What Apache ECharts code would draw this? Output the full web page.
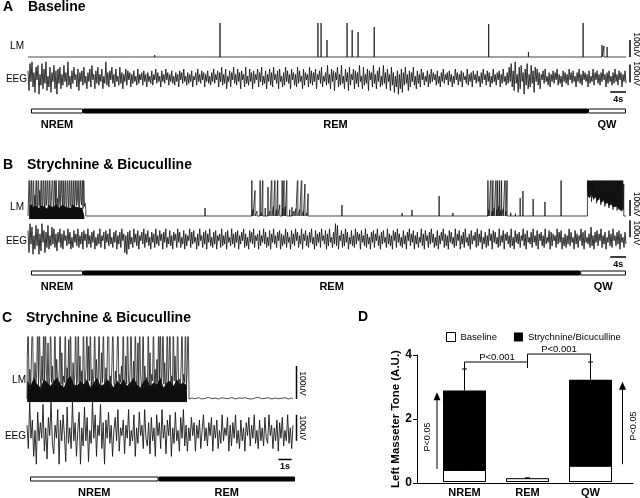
<!DOCTYPE html>
<html><head><meta charset="utf-8">
<script src="https://cdn.jsdelivr.net/npm/echarts@6/dist/echarts.min.js"></script>
<style>html,body{margin:0;padding:0;background:#fff}#c{width:640px;height:498px}</style>
</head><body><div id="c"></div><script>
// ---------------- data ----------------
const stateNamesAB = ['NREM','REM','QW'];
const stateNamesC = ['NREM','REM'];
const statesA = [13.3, 129.0, 9.7];     // durations, s
const statesB = [13.3, 127.0, 11.7];
const statesC = [9.7, 10.3];

// Panel A LM spikes (time s, amplitude uV)
const lmA_t = [4.1,9.9,16.5,25.6,32.2,39.7,45.4,48.8,54.5,62.0,69.4,73.7,74.5,76.0,81.1,82.4,83.9,88.0,92.5,99.1,105.7,112.3,117.1,122.3,127.2,132.2,137.1,141.1,145.9,146.4,147.2,149.5];
const lmA_v = [6,4,8,5,12,4,6,200,5,7,10,200,200,100,200,159,147,176,6,10,5,8,194,4,30,6,9,200,70,65,59,5];
// Panel A EEG (units of 10 uV)
const eegA = [4,-7,8,-2,9,-5,3,-8,6,-1,7,-9,2,-4,8,-6,5,-3,9,-7,1,-5,6,-8,3,-2,7,-6,4,-9,
5,-3,6,-6,2,-4,7,-2,3,-5,9,-4,1,-6,4,-3,6,-1,2,-5,5,-7,3,-2,4,-4,6,-3,1,-6,
3,-2,5,-5,7,-1,2,-6,4,-3,6,-4,2,-2,5,-6,1,-3,9,-4,3,-5,4,-1,6,-3,2,-5,5,-2,
1,-4,6,-3,3,-6,2,-2,5,-4,4,-1,3,-5,2,-3,4,-2,1,-4,5,-3,2,-1,3,-4,4,-2,2,-5,
3,-2,1,-3,4,-4,2,-1,5,-3,3,-2,1,-5,4,-2,2,-3,5,-1,3,-4,2,-2,4,-3,1,-4,3,-2,
2,-5,4,-1,3,-3,5,-2,1,-4,3,-3,2,-2,4,-5,1,-1,3,-4,5,-2,2,-3,4,-1,3,-5,2,-2,
4,-3,1,-4,3,-2,5,-3,2,-1,4,-5,3,-2,6,-4,2,-3,5,-6,1,-2,4,-5,3,-1,6,-3,2,-4,
5,-2,3,-6,4,-1,2,-5,6,-3,1,-4,5,-2,3,-6,4,-3,2,-1,5,-5,3,-2,6,-4,1,-3,4,-6,
2,-2,5,-4,3,-5,6,-1,2,-3,4,-6,5,-2,1,-5,3,-4,6,-2,4,-3,2,-6,5,-1,3,-4,2,-5,
6,-3,4,-2,1,-6,5,-4,3,-1,2,-5,6,-3,4,-4,3,-2,5,-6,2,-1,4,-3,6,-5,1,-2,3,-4,
7,-3,2,-6,5,-2,4,-7,3,-1,6,-5,2,-4,7,-3,1,-6,5,-2,3,-7,6,-4,2,-1,5,-6,4,-3,
3,-5,7,-2,1,-6,6,-4,2,-3,5,-7,4,-1,3,-5,7,-3,2,-6,4,-2,6,-5,1,-4,7,-3,3,-6,
5,-2,2,-7,6,-4,3,-8,1,-5,4,-9,2,-6,5,-8,3,-4,6,-3,2,-7,4,-5,3,-2,6,-4,1,-6,
4,-3,2,-5,5,-1,3,-4,1,-2,4,-5,2,-3,5,-2,3,-1,2,-4,4,-3,1,-5,3,-2,5,-3,2,-1,
3,-4,4,-2,2,-5,1,-3,5,-1,3,-4,2,-2,4,-5,3,-1,1,-3,5,-4,2,-2,3,-5,4,-1,2,-3,
4,-2,1,-5,3,-3,5,-1,2,-4,4,-2,3,-5,1,-3,5,-2,2,-4,3,-1,4,-5,2,-3,5,-2,1,-4,
3,-3,6,-2,8,-5,4,-7,9,-3,2,-8,6,-6,7,-2,3,-9,5,-4,8,-6,2,-5,7,-3,4,-8,6,-2,
5,-4,3,-6,2,-1,4,-3,5,-2,1,-4,3,-5,2,-2,4,-3,3,-1,5,-4,2,-3,1,-5,4,-2,3,-3,
2,-4,5,-1,3,-3,4,-2,1,-5,3,-2,5,-3,2,-4,4,-1,3,-2,2,-5,4,-3,1,-2,5,-4,3,-1,
4,-3,2,-4,3,-2,5,-1,2,-5,3,-3,4,-2,1,-4,3,-3,5,-2,2,-4,4,-1,3,-5,2,-2,4,-3];

// Panel B LM isolated spikes + REM bursts
const lmB_t = [18.2,24.8,33.0,39.7,45.0,49.6,
56.9,57.2,57.7,58.2,59.0,59.4,59.7,60.3,61.0,61.5,62.0,62.4,62.8,63.2,63.5,64.0,64.6,64.8,65.1,65.4,65.8,66.5,67.1,67.6,68.1,68.6,69.1,69.6,70.0,70.4,70.9,71.2,
74.3,79.8,82.6,89.2,95.1,97.6,100.8,104.5,108.0,111.5,
116.9,117.2,117.7,118.0,118.2,118.5,119.0,119.2,119.4,119.7,119.9,120.2,120.4,120.8,121.3,121.5,121.8,122.7,123.9,
125.1,125.8,128.4,131.4,135.5,138.8];
const lmB_v = [6,8,5,10,50,7,
300,40,160,30,300,20,300,50,180,30,300,60,300,40,300,70,300,50,300,60,250,40,55,30,45,300,40,300,30,200,20,140,
6,69,8,5,19,38,7,125,19,6,
300,40,300,30,300,50,300,40,300,60,300,35,300,45,300,30,300,20,15,
113,156,106,88,300,8];
// NREM burst spikes (start 0.3 s, step 0.18 s) and dense-activity envelope (start 0.3 s, step 0.5 s)
const lmB_nrem = [250,60,110,300,40,80,300,55,130,70,300,45,90,300,60,160,40,300,75,50,
300,95,45,300,65,120,300,50,80,300,40,70,180,300,55,90,300,45,300,65,
110,40,300,80,55,300,140,60,300,45,95,300,70,50,300,120,40,300,85,60,
300,50,75,300,45,130,300,65,90,300,55,40,300,100,70,300,45,300,60,80,40];
const lmB_nremEnv = [60,75,55,70,80,50,65,75,60,45,70,80,55,65,75,50,60,70,80,55,65,50,75,60,70,55,65,50,45];
// QW burst spikes (start 142.2 s, step 0.13 s) and lower edge of the saturated block (step 0.5 s)
const lmB_qw = [300,160,300,210,300,120,300,180,90,300,200,300,140,300,110,300,170,300,80,300,
150,300,100,300,190,300,70,300,130,300,90,300,160,300,60,300,110,300,80,300,
140,300,50,300,100,300,70,300,120,300,40,300,90,300,60,300,110,300,35,300,
70,300,50,300,90,300,30,250,60,300,40,200];
const lmB_qwFloor = [130,110,140,100,120,90,115,80,100,70,85,60,75,55,45,60,40,50,35];
const eegB = [5,-8,9,-3,7,-9,2,-6,8,-4,6,-9,3,-7,9,-2,5,-8,4,-5,8,-6,2,-4,7,-3,6,-5,3,-7,
4,-2,6,-5,3,-6,5,-1,2,-4,6,-3,4,-6,1,-5,5,-2,3,-4,6,-5,2,-3,4,-6,5,-1,3,-5,
6,-3,2,-5,4,-2,5,-6,1,-4,3,-3,6,-5,2,-1,4,-6,5,-2,3,-4,6,-3,1,-5,4,-2,5,-6,
2,-3,4,-5,6,-1,3,-8,2,-9,4,-6,5,-3,1,-5,6,-2,3,-4,5,-6,2,-1,4,-3,6,-5,3,-2,
5,-4,1,-6,4,-2,3,-5,6,-3,2,-4,5,-1,3,-6,4,-2,6,-5,1,-3,5,-4,2,-6,4,-1,3,-5,
6,-2,4,-5,1,-3,5,-6,3,-4,2,-1,6,-5,4,-3,5,-2,1,-6,3,-4,6,-1,2,-5,4,-3,5,-6,
3,-2,6,-4,1,-5,4,-3,5,-6,2,-1,3,-5,6,-4,2,-3,4,-6,5,-2,1,-4,6,-3,3,-5,4,-2,
5,-6,2,-3,4,-1,6,-5,3,-4,1,-6,5,-2,4,-3,6,-5,2,-1,3,-6,5,-4,2,-2,6,-3,4,-5,
1,-4,5,-6,3,-2,6,-3,2,-5,4,-1,5,-6,3,-4,2,-3,6,-5,4,-2,1,-6,5,-3,3,-4,6,-1,
4,-5,2,-3,6,-6,3,-1,5,-4,2,-5,4,-2,6,-3,1,-6,5,-4,3,-2,4,-5,6,-1,2,-3,5,-6,
3,-4,6,-2,1,-5,4,-3,9,-4,8,-6,2,-1,5,-5,3,-4,6,-2,4,-6,1,-3,5,-4,2,-5,6,-3,
4,-1,3,-6,5,-2,2,-4,6,-5,3,-3,1,-6,4,-2,5,-5,3,-1,6,-4,2,-6,4,-3,5,-2,1,-5,
6,-3,3,-4,2,-6,5,-1,4,-5,6,-2,3,-4,1,-5,5,-3,2,-6,4,-1,6,-4,3,-2,5,-6,2,-3,
4,-5,1,-2,6,-4,3,-6,5,-1,2,-5,4,-3,6,-2,3,-5,1,-4,5,-6,2,-3,4,-1,6,-5,3,-4,
2,-6,5,-2,4,-3,1,-5,6,-4,3,-1,5,-6,2,-3,4,-5,6,-2,1,-4,3,-6,5,-3,2,-1,4,-5,
6,-4,3,-2,5,-6,1,-3,4,-5,2,-4,6,-1,3,-6,5,-2,4,-3,1,-5,6,-4,2,-2,5,-6,3,-1,
4,-3,2,-5,6,-4,1,-6,5,-2,3,-3,4,-5,2,-1,6,-4,3,-6,5,-2,1,-3,4,-5,6,-2,2,-4,
5,-6,3,-1,4,-4,2,-5,6,-3,1,-2,5,-6,4,-4,3,-1,2,-5,6,-3,4,-2,5,-6,1,-4,3,-5,
2,-3,6,-4,4,-2,1,-6,5,-3,3,-5,2,-1,6,-4,4,-6,5,-2,1,-3,3,-5,7,-4,2,-6,4,-2,
5,-4,3,-1,6,-5,2,-3,4,-6,1,-2,5,-4,3,-5,6,-1,2,-4,4,-3,5,-6,3,-2,1,-5,4,-3];

// Panel C LM burst spikes (step 0.065 s), dense-activity envelope (step 0.25 s), REM baseline (start 12.4 s, step 0.25 s)
const lmC_burst = [120,250,45,90,30,150,250,60,35,110,50,80,250,40,250,70,25,130,55,250,
35,250,90,45,170,30,65,250,50,100,25,75,250,40,120,55,30,85,250,45,
140,35,70,50,250,30,95,60,180,40,250,55,25,110,45,75,250,35,60,250,
50,130,30,85,45,250,65,35,100,250,40,160,55,250,30,90,45,70,250,35,
120,55,40,250,80,30,140,50,250,65,35,95,45,190,250,40,70,30,110,250,
55,35,85,45,150,250,30,75,50,100,40,250,60,35,130,45,250,70,30,90,
250,50,40,115,35,250,60,45,170,30,250,80,40,55,250,35,100,50,65,30,
250,45,140,35,75,55,250,40,90,30,120,50,250,60,250,35,80,250,45,110,
30,65,250,50,95,250,35,70,40,250,55,130,30,85,250,45,60,35,100,250,
40,75,50,250,30,90,250,45];
const lmC_env = [55,40,65,45,35,60,50,40,55,65,45,35,60,70,45,40,55,45,60,35,50,65,40,45,60,
50,35,55,45,60,40,50,65,45,35,55,60,40,50,45,65,35,50,55,40,60,45,50,40];
const lmC_rem = [3,1,4,0,2,5,1,3,0,4,2,1,5,0,3,2,4,1,0,3,5,1,2,4,0,3,1,2,4,0,3];
const eegC = [3,-6,12,-2,5,-9,1,-12,8,-3,4,-2,11,-7,2,-10,6,-1,12,-4,
-8,3,-2,9,-12,5,-3,7,-1,-11,10,-4,2,-6,12,-3,4,-9,1,8,
-12,2,-5,10,-3,6,-11,1,-4,12,-2,7,-9,3,-1,11,-6,4,-12,5,
-2,8,-4,3,-9,1,6,-3,9,-7,2,-1,5,-8,3,-2,9,-5,1,-3,
7,-9,2,-4,8,-1,3,-6,9,-2,-5,4,-8,6,-3,2,-9,7,-1,4,
-6,9,-2,3,-8,5,-1,7,-9,2,-4,8,-3,1,-7,6,-2,9,-5,3,
-7,2,-3,6,-1,4,-7,3,-2,5,-6,1,7,-3,2,-5,4,-1,6,-7,
3,-2,5,-6,1,-4,7,-3,2,-1,6,-7,3,-5,4,-2,7,-4,1,-6,
5,-3,2,-7,4,-1,6,-5,3,-2,7,-4,1,-6,5,-3,2,-5,6,-2,
-4,7,-1,3,-6,2,-3,5,-7,4,-2,6,-5,1,-3,7,-4,2,-6,3];

// Panel D
const cats = ['NREM','REM','QW'];
const baseline = [0.38, 0.12, 0.51];
const baselineErr = [0.39, 0.13, 0.52];
const strych = [2.88, 0.10, 3.22];
const strychErr = [3.56, 0.11, 3.78];
const sigLevel1 = 3.78, sigLevel2 = 4.03;

// ---------------- build ----------------
const FONT = '"Liberation Sans", Arial, Helvetica, sans-serif';
const chart = echarts.init(document.getElementById('c'), null, {renderer:'canvas'});

function spikePts(ts, vs){ const p=[]; ts.forEach((t,i)=>{p.push([t,0],[t,vs[i]],[t,0]);}); return p; }
function uniPts(t0, dt, vs){ return vs.map((v,i)=>[+(t0+i*dt).toFixed(4), v]); }
function burstPts(t0, dt, vs){ const u=uniPts(t0,dt,vs); const tEnd=t0+(vs.length-1)*dt; return [[t0-0.01,0]].concat(u,[[tEnd+0.01,0]]); }
function lmLine(end, parts){ let p=[]; parts.forEach(q=>{p=p.concat(q);}); p.sort((a,b)=>a[0]-b[0]); return [[0,0]].concat(p,[[end,0]]); }
function eegPts(vals, end){ return vals.map((v,i)=>[i*end/(vals.length-1), v*10]); }

const lmAData = lmLine(152, [spikePts(lmA_t, lmA_v)]);
const lmBData = lmLine(152, [spikePts(lmB_t, lmB_v), burstPts(0.3,0.18,lmB_nrem), burstPts(142.2,0.13,lmB_qw)]);
const lmCData = lmLine(20, [burstPts(0.02,0.065,lmC_burst), uniPts(12.4,0.25,lmC_rem)]);

function tg(left,right,baseY,pxPer100,minV,maxV){ const s=pxPer100/100; return {left:left, width:right-left, top:baseY-maxV*s, height:(maxV-minV)*s, minV:minV, maxV:maxV}; }
const tgs = [
  tg(28,626,57,17,-20,205),
  tg(28,626,78,18,-110,110),
  tg(28,626,216,16,-20,219),
  tg(28,626,239,17,-110,110),
  tg(27,293,399,33,-10,188),
  tg(27,293,433,26,-130,130)
];
const tEnds = [152,152,152,152,20,20];
const lineW = [0.8,0.85,0.8,0.85,0.8,0.9];
const lineC = ['#151515','#141414','#151515','#141414','#1a1a1a','#1a1a1a'];
const grids=[], xAxes=[], yAxes=[], series=[];
tgs.forEach((g,i)=>{
  grids.push({left:g.left, top:g.top, width:g.width, height:g.height});
  xAxes.push({gridIndex:i, type:'value', min:0, max:tEnds[i], show:false});
  yAxes.push({gridIndex:i, type:'value', min:g.minV, max:g.maxV, show:false});
});
const traceData = [lmAData, eegPts(eegA,152), lmBData, eegPts(eegB,152), lmCData, eegPts(eegC,20)];
traceData.forEach((d,i)=>{
  series.push({type:'line', xAxisIndex:i, yAxisIndex:i, data:d, symbol:'none', silent:true, clip:true, z:3,
    lineStyle:{color:lineC[i], width:lineW[i]}});
});
// dense EMG activity filled areas
function areaSeries(gi, data, origin){
  return {type:'line', xAxisIndex:gi, yAxisIndex:gi, data:data, symbol:'none', silent:true, clip:true, z:2,
    lineStyle:{width:0}, areaStyle:{color:'#0d0d0d', opacity:1, origin:origin}};
}
series.push(areaSeries(2, burstPts(0.3,0.5,lmB_nremEnv), 'start'));
series.push(areaSeries(2, uniPts(142.2,0.5,lmB_qwFloor), 'end'));
series.push(areaSeries(4, burstPts(0.02,0.25,lmC_env), 'start'));
// hypnograms
const hyp = [
  {g:{left:31, top:108, width:595, height:6}, end:152, d:statesA, n:stateNamesAB},
  {g:{left:31, top:270, width:595, height:6}, end:152, d:statesB, n:stateNamesAB},
  {g:{left:30, top:476, width:265, height:6}, end:20, d:statesC, n:stateNamesC}
];
hyp.forEach((h,k)=>{
  const gi = grids.length;
  grids.push(h.g);
  xAxes.push({gridIndex:gi, type:'value', min:0, max:h.end, show:false});
  yAxes.push({gridIndex:gi, type:'category', data:['s'], show:false});
  h.d.forEach((dur,j)=>{
    series.push({type:'bar', xAxisIndex:gi, yAxisIndex:gi, stack:'h'+k, barWidth:5, data:[dur], silent:true,
      itemStyle:{color: h.n[j]==='REM' ? '#000' : '#fff', borderColor:'#000', borderWidth:1},
      label:{show:true, position:'bottom', distance:6, formatter:h.n[j], fontFamily:FONT, fontWeight:'bold', fontSize:11, color:'#000'}});
  });
});
// panel D
const gA = grids.length; // axes grid
grids.push({left:417, top:355, width:216, height:128});
xAxes.push({gridIndex:gA, type:'value', min:0, max:1, axisLine:{show:true, onZero:false, lineStyle:{color:'#000', width:1}}, axisTick:{show:false}, axisLabel:{show:false}, splitLine:{show:false}});
yAxes.push({gridIndex:gA, type:'value', min:0, max:4, interval:2,
  axisLine:{show:true, lineStyle:{color:'#000', width:1}}, axisTick:{show:true, length:4, lineStyle:{color:'#000'}},
  axisLabel:{color:'#000', fontFamily:FONT, fontWeight:'bold', fontSize:12, margin:5}, splitLine:{show:false},
  name:'Left Masseter Tone (A.U.)', nameLocation:'middle', nameGap:9, nameRotate:90,
  nameTextStyle:{color:'#000', fontFamily:FONT, fontWeight:'bold', fontSize:11.5}});
const gB = grids.length; // bars grid
grids.push({left:433, top:355, width:189, height:128});
xAxes.push({gridIndex:gB, type:'category', data:cats, axisLine:{show:false}, axisTick:{show:false},
  axisLabel:{color:'#000', fontFamily:FONT, fontWeight:'bold', fontSize:11, margin:5}});
yAxes.push({gridIndex:gB, type:'value', min:0, max:4, show:false});
series.push({type:'bar', name:'Strychnine/Bicuculline', xAxisIndex:gB, yAxisIndex:gB, data:strych, barWidth:43, barGap:'-100%',
  itemStyle:{color:'#000'}, z:2});
series.push({type:'bar', name:'Baseline', xAxisIndex:gB, yAxisIndex:gB, data:baseline, barWidth:43, barGap:'-100%',
  itemStyle:{color:'#fff', borderColor:'#000', borderWidth:1}, z:3});
function errSeries(vals, errs, z){
  return {type:'custom', xAxisIndex:gB, yAxisIndex:gB, z:z, silent:true,
    data: vals.map((v,i)=>[i, v, errs[i]]),
    renderItem:function(params, api){
      const a = api.coord([api.value(0), api.value(1)]);
      const b = api.coord([api.value(0), api.value(2)]);
      return {type:'group', children:[
        {type:'line', shape:{x1:a[0], y1:a[1], x2:b[0], y2:b[1]}, style:{stroke:'#000', lineWidth:1}},
        {type:'line', shape:{x1:b[0]-2.5, y1:b[1], x2:b[0]+2.5, y2:b[1]}, style:{stroke:'#000', lineWidth:1}}
      ]};
    }};
}
series.push(errSeries(strych, strychErr, 4));
series.push(errSeries(baseline, baselineErr, 5));

chart.setOption({
  animation:false,
  textStyle:{fontFamily:FONT},
  grid:grids, xAxis:xAxes, yAxis:yAxes, series:series,
  legend:{data:[{name:'Baseline', itemStyle:{color:'#fff', borderColor:'#000', borderWidth:1}}, {name:'Strychnine/Bicuculline'}],
    left:441, top:327, itemWidth:9, itemHeight:9, itemGap:17, icon:'rect', selectedMode:false,
    textStyle:{fontSize:9.5, fontFamily:FONT, color:'#000'}}
});

// ---------------- annotations ----------------
const G = [];
function txt(x,y,s,opt){ opt=opt||{}; G.push({type:'text', x:x, y:y, rotation:opt.rot||0, silent:true,
  style:{text:s, fontFamily:FONT, fontSize:opt.size||10, fontWeight:opt.bold?'bold':'normal', fill:'#000',
  align:opt.align||'left', verticalAlign:'middle'}}); }
function ln(x1,y1,x2,y2,w){ G.push({type:'line', silent:true, shape:{x1:x1,y1:y1,x2:x2,y2:y2}, style:{stroke:'#000', lineWidth:w||1}}); }
// titles
txt(3,7.5,'A',{bold:true,size:14}); txt(28,7.5,'Baseline',{bold:true,size:14});
txt(3,165.5,'B',{bold:true,size:14}); txt(27,165.5,'Strychnine & Bicuculline',{bold:true,size:14});
txt(2,318,'C',{bold:true,size:14}); txt(26,318,'Strychnine & Bicuculline',{bold:true,size:14});
txt(358,317.5,'D',{bold:true,size:14});
// trace labels
txt(24,46.5,'LM',{align:'right'}); txt(27,79,'EEG',{align:'right'});
txt(24,207,'LM',{align:'right'}); txt(27,241.5,'EEG',{align:'right'});
txt(26,380,'LM',{align:'right'}); txt(26,436,'EEG',{align:'right'});
// amplitude scale bars (100 uV)
function vbar(gi, xp, v0, v1, dy){
  const a = chart.convertToPixel({gridIndex:gi},[0,v0])[1];
  const b = chart.convertToPixel({gridIndex:gi},[0,v1])[1];
  ln(xp,a,xp,b,1.5);
  txt(xp+6,(a+b)/2+dy,'100uV',{size:8.5,align:'center',rot:-Math.PI/2});
}
vbar(0,630,0,100,-4); vbar(1,630,-25,75,0);
vbar(2,630,0,100,-4); vbar(3,630,10,110,4);
vbar(4,296.5,0,100,1); vbar(5,296.5,-30,70,0);
// time scale bars
function hbar(gi, t0, t1, yp, label){
  const a = chart.convertToPixel({gridIndex:gi},[t0,0])[0];
  const b = chart.convertToPixel({gridIndex:gi},[t1,0])[0];
  ln(a,yp,b,yp,1.5);
  txt((a+b)/2,yp+7.5,label,{bold:true,size:9,align:'center'});
}
hbar(1,148,152,92,'4s'); hbar(3,148,152,257,'4s'); hbar(5,18.9,19.9,459.5,'1s');
// significance brackets
const P = (i,v)=>chart.convertToPixel({gridIndex:gB},[i,v]);
const n0 = P(0,strychErr[0]), r1 = P(1,sigLevel1), q2 = P(2,sigLevel1), r2 = P(1,sigLevel2);
const yL1 = r1[1], yL2 = r2[1];
ln(n0[0], n0[1], n0[0], yL1); ln(n0[0], yL1, r1[0], yL1); ln(r1[0], yL2, r1[0], P(1,3.59)[1]);
ln(r1[0], yL2, q2[0], yL2); ln(q2[0], yL2, q2[0], yL1);
txt((n0[0]+r1[0])/2+1, yL1-5, 'P<0.001', {size:9.5, align:'center'});
txt((r1[0]+q2[0])/2, yL2-4.5, 'P<0.001', {size:9.5, align:'center'});
// arrows
function arrow(x, v0, v1, tx, ty){
  const y0 = P(0,v0)[1], y1 = P(0,v1)[1];
  ln(x, y0, x, y1+6, 1);
  G.push({type:'polygon', silent:true, shape:{points:[[x-3.5,y1+8],[x+3.5,y1+8],[x,y1]]}, style:{fill:'#000'}});
  txt(tx, ty, 'P<0.05', {size:9, align:'center', rot:Math.PI/2});
}
const nx = P(0,0)[0], qx = P(2,0)[0];
arrow(nx-27.5, baseline[0]+0.03, strych[0]-0.05, nx-36.5, 437);
arrow(qx+32, baseline[2]+0.05, strych[2]-0.06, qx+43, 426);

chart.setOption({graphic: G});
</script></body></html>
